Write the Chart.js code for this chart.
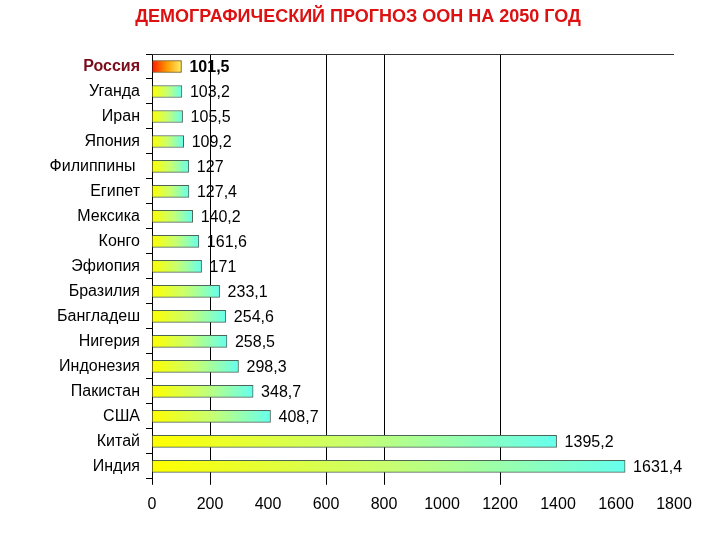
<!DOCTYPE html>
<html>
<head>
<meta charset="utf-8">
<script src="https://cdn.jsdelivr.net/npm/chart.js@4/dist/chart.umd.min.js"></script>
<style>
html,body{margin:0;padding:0;background:#fff;}
#wrap{width:720px;height:540px;}
</style>
</head>
<body>
<div id="wrap"><canvas id="c" width="720" height="540"></canvas></div>
<script>
const titleText = "ДЕМОГРАФИЧЕСКИЙ ПРОГНОЗ ООН НА 2050 ГОД";
const countries = ["Россия","Уганда","Иран","Япония","Филиппины ","Египет","Мексика","Конго","Эфиопия","Бразилия","Бангладеш","Нигерия","Индонезия","Пакистан","США","Китай","Индия"];
const population = [101.5,103.2,105.5,109.2,127,127.4,140.2,161.6,171,233.1,254.6,258.5,298.3,348.7,408.7,1395.2,1631.4];
const xTicksMin = 0, xTicksMax = 1800, xStep = 200;
const gridValues = [0,200,600,800,1200];
const highlight = "Россия";

const FONT = '"Liberation Sans", Arial, sans-serif';

function barGradient(ctx){
  const chart = ctx.chart;
  const xs = chart.scales && chart.scales.x;
  const i = ctx.dataIndex;
  const isHL = countries[i] === highlight;
  if(!xs || xs.left === undefined){ return isHL ? '#ff6600' : '#ccff66'; }
  const x0 = xs.getPixelForValue(0);
  const x1 = xs.getPixelForValue(population[i]);
  const g = chart.ctx.createLinearGradient(x0,0,x1,0);
  if(isHL){
    g.addColorStop(0,'#ff1a00');
    g.addColorStop(0.5,'#ff9900');
    g.addColorStop(1,'#ffee66');
  } else {
    g.addColorStop(0,'#ffff00');
    g.addColorStop(0.5,'#c8ff70');
    g.addColorStop(1,'#66ffee');
  }
  return g;
}

const valueLabels = {
  id:'valueLabels',
  afterDatasetsDraw(chart){
    const c = chart.ctx;
    const meta = chart.getDatasetMeta(0);
    c.save();
    c.textBaseline='middle';
    c.textAlign='left';
    meta.data.forEach((el,i)=>{
      const bold = countries[i]===highlight;
      c.font = (bold?'bold ':'') + '16px ' + FONT;
      c.fillStyle = '#000';
      c.fillText(String(population[i]).replace('.',','), el.x+8, el.y+1);
    });
    c.restore();
  }
};
const topBorderAndTitle = {
  id:'topBorderAndTitle',
  afterDraw(chart){
    const a = chart.chartArea, c = chart.ctx;
    c.save();
    c.strokeStyle='#333';
    c.lineWidth=1;
    c.beginPath();
    c.moveTo(a.left, Math.round(a.top)+0.5);
    c.lineTo(a.right, Math.round(a.top)+0.5);
    c.stroke();
    c.fillStyle='#dd1111';
    c.font='bold 18px ' + FONT;
    c.textAlign='center';
    c.textBaseline='middle';
    c.fillText(titleText, chart.width/2 - 2, 17);
    c.restore();
  }
};

new Chart(document.getElementById('c'),{
  type:'bar',
  data:{
    labels:countries,
    datasets:[{
      data:population,
      backgroundColor:barGradient,
      borderColor:(ctx)=>countries[ctx.dataIndex]===highlight?'#664400':'#4d6655',
      borderWidth:1,
      borderSkipped:'left',
      barThickness:12
    }]
  },
  options:{
    indexAxis:'y',
    responsive:false,
    animation:false,
    layout:{padding:{left:0,right:46,top:54,bottom:16}},
    plugins:{
      legend:{display:false},
      tooltip:{enabled:false},
      title:{display:false}
    },
    scales:{
      x:{
        min:xTicksMin,max:xTicksMax,
        ticks:{stepSize:xStep,color:'#000',padding:10,
          callback:(v)=>String(v),
          font:{family:FONT,size:16}},
        grid:{
          color:(ctx)=>gridValues.includes(ctx.tick && ctx.tick.value)?'#000':'rgba(0,0,0,0)',
          lineWidth:1,
          drawTicks:true,
          tickLength:6
        },
        border:{display:false}
      },
      y:{
        afterFit(scale){ scale.width = 152; },
        ticks:{
          color:(ctx)=>countries[ctx.index]===highlight?'#7a0d1a':'#000',
          font:(ctx)=>({family:FONT,size:16,weight:countries[ctx.index]===highlight?'bold':'normal'}),
          padding:6
        },
        grid:{drawOnChartArea:false,drawTicks:true,tickLength:6,color:'#000',offset:true},
        border:{display:true,color:'#000',width:1}
      }
    }
  },
  plugins:[valueLabels,topBorderAndTitle]
});
</script>
</body>
</html>
